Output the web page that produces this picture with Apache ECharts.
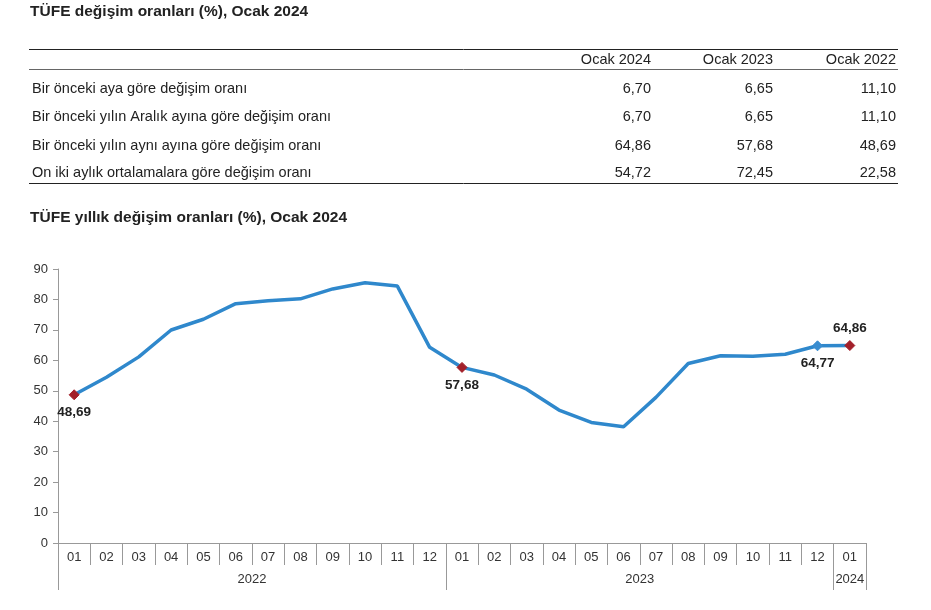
<!DOCTYPE html>
<html><head><meta charset="utf-8">
<script src="https://cdn.jsdelivr.net/npm/echarts@6/dist/echarts.min.js"></script>
<style>html,body{margin:0;padding:0;background:#fff;}#c{width:931px;height:610px;}</style>
</head><body><div id="c"></div>
<script>
var title1 = 'TÜFE değişim oranları (%), Ocak 2024';
var title2 = 'TÜFE yıllık değişim oranları (%), Ocak 2024';
var tableHeaders = ['Ocak 2024', 'Ocak 2023', 'Ocak 2022'];
var tableRowLabels = ['Bir önceki aya göre değişim oranı', 'Bir önceki yılın Aralık ayına göre değişim oranı', 'Bir önceki yılın aynı ayına göre değişim oranı', 'On iki aylık ortalamalara göre değişim oranı'];
var colOcak2024 = ['6,70', '6,70', '64,86', '54,72'];
var colOcak2023 = ['6,65', '6,65', '57,68', '72,45'];
var colOcak2022 = ['11,10', '11,10', '48,69', '22,58'];

var months = ['01','02','03','04','05','06','07','08','09','10','11','12','01','02','03','04','05','06','07','08','09','10','11','12','01'];
var years = ['2022', '2023', '2024'];
var annualRates = [48.69, 54.44, 61.14, 69.97, 73.50, 78.62, 79.60, 80.21, 83.45, 85.51, 84.39, 64.27,
                   57.68, 55.18, 50.51, 43.68, 39.59, 38.21, 47.83, 58.94, 61.53, 61.36, 61.98, 64.77,
                   64.86];
var yTicks = [0, 10, 20, 30, 40, 50, 60, 70, 80, 90];
// highlighted points: index -> [marker colour, label position]
var highlights = {0: ['#a3202a', 'bottom'], 12: ['#a3202a', 'bottom'], 23: ['#3a8dd0', 'bottom'], 24: ['#a3202a', 'top']};

var fontFam = 'Arial, "Liberation Sans", sans-serif';
var txtColor = '#222';

// half-month categories for the year row
var yearCats = [];
for (var i = 0; i <= 50; i++) yearCats.push('h' + i);
var yearLabelPos = {12: years[0], 36: years[1], 49: years[2]};
var yearTickPos = {0: 1, 24: 1, 48: 1, 50: 1};

function fmt(v) { return v.toFixed(2).replace('.', ','); }

var seriesData = annualRates.map(function (v, i) {
  var h = highlights[i];
  if (!h) return { value: v, symbol: 'none' };
  return {
    value: v, symbol: 'diamond', symbolSize: 10,
    itemStyle: { color: h[0], borderColor: h[0] },
    label: { show: true, position: h[1], distance: 5, formatter: function (p) { return fmt(p.value); },
             color: txtColor, fontWeight: 'bold', fontSize: 13.5, fontFamily: fontFam }
  };
});

// table graphics
var graphics = [];
graphics.push({ type: 'text', left: 30, top: 4, style: { text: title1, fill: txtColor, font: 'bold 15.5px ' + fontFam } });
graphics.push({ type: 'text', left: 30, top: 210, style: { text: title2, fill: txtColor, font: 'bold 15.5px ' + fontFam } });
graphics.push({ type: 'line', shape: { x1: 29, y1: 49.5, x2: 898, y2: 49.5 }, style: { stroke: '#222', lineWidth: 1 } });
graphics.push({ type: 'line', shape: { x1: 29, y1: 69.5, x2: 898, y2: 69.5 }, style: { stroke: '#666', lineWidth: 1 } });
graphics.push({ type: 'line', shape: { x1: 29, y1: 183.5, x2: 898, y2: 183.5 }, style: { stroke: '#222', lineWidth: 1 } });
var colRight = [651, 773, 896];
var cols = [colOcak2024, colOcak2023, colOcak2022];
tableHeaders.forEach(function (h, j) {
  graphics.push({ type: 'text', x: colRight[j], y: 60, style: { text: h, fill: txtColor, font: '14.5px ' + fontFam, textAlign: 'right', textVerticalAlign: 'middle' } });
});
var rowY = [89, 117, 146, 173];
tableRowLabels.forEach(function (r, i) {
  graphics.push({ type: 'text', x: 32, y: rowY[i], style: { text: r, fill: txtColor, font: '14.5px ' + fontFam, textAlign: 'left', textVerticalAlign: 'middle' } });
  cols.forEach(function (c, j) {
    graphics.push({ type: 'text', x: colRight[j], y: rowY[i], style: { text: c[i], fill: txtColor, font: '14.5px ' + fontFam, textAlign: 'right', textVerticalAlign: 'middle' } });
  });
});

var chart = echarts.init(document.getElementById('c'), null, { renderer: 'canvas' });
chart.setOption({
  animation: false,
  backgroundColor: '#fff',
  graphic: graphics,
  grid: { left: 58, right: 65, top: 269, bottom: 67, containLabel: false },
  xAxis: [{
    type: 'category', data: months, boundaryGap: true, position: 'bottom',
    axisLine: { show: true, lineStyle: { color: '#999', width: 1 } },
    axisTick: { show: true, interval: 0, length: 22, lineStyle: { color: '#999' } },
    axisLabel: { interval: 0, margin: 8, color: '#333', fontSize: 13, fontFamily: fontFam },
    splitLine: { show: false }
  }, {
    type: 'category', data: yearCats, boundaryGap: false, position: 'bottom', offset: 22,
    axisLine: { show: false },
    axisTick: { show: true, length: 25, lineStyle: { color: '#999' },
                interval: function (idx) { return !!yearTickPos[idx]; } },
    axisLabel: { margin: 8, color: '#333', fontSize: 13, fontFamily: fontFam,
                 interval: function (idx) { return yearLabelPos[idx] !== undefined; },
                 formatter: function (v, idx) { return yearLabelPos[idx] || ''; } },
    splitLine: { show: false }
  }],
  yAxis: {
    type: 'value', min: yTicks[0], max: yTicks[yTicks.length - 1], interval: 10,
    axisLine: { show: true, lineStyle: { color: '#999' } },
    axisTick: { show: true, length: 5, lineStyle: { color: '#999' } },
    axisLabel: { margin: 10, color: '#333', fontSize: 13, fontFamily: fontFam },
    splitLine: { show: false }
  },
  series: [{
    type: 'line', xAxisIndex: 0, data: seriesData, symbol: 'none', showSymbol: true,
    lineStyle: { color: '#2f88cc', width: 3.5 },
    itemStyle: { color: '#2f88cc' },
    z: 3
  }]
});
</script></body></html>
